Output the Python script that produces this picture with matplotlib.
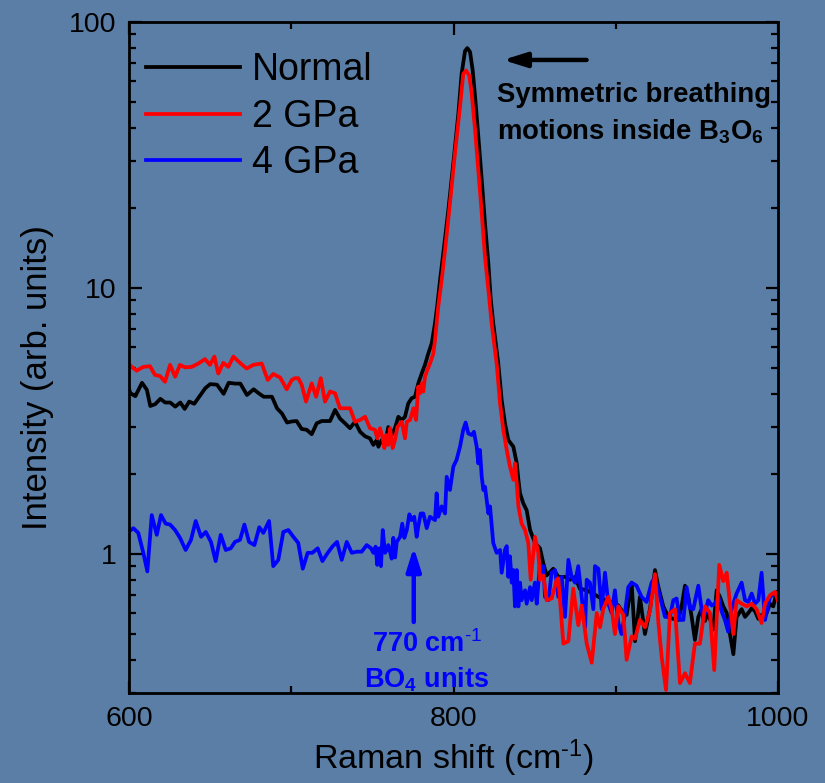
import numpy as np
import matplotlib
matplotlib.use('Agg')
from matplotlib import pyplot as plt
from matplotlib import ticker

plt.rcParams['font.family'] = ['Liberation Sans', 'DejaVu Sans']
plt.rcParams['mathtext.fontset'] = 'custom'
plt.rcParams['mathtext.rm'] = 'Liberation Sans'
plt.rcParams['mathtext.bf'] = 'Liberation Sans:bold'
plt.rcParams['mathtext.it'] = 'Liberation Sans:italic'
plt.rcParams['mathtext.default'] = 'regular'

# Normal
normal_x = [598.8, 600.8, 603.9, 608.0, 611.0, 613.1, 616.2, 619.3, 622.3, 625.4, 628.5, 631.6, 634.3, 637.1,
            640.2, 643.3, 647.0, 650.0, 654.2, 658.3, 661.4, 665.5, 668.6, 672.7, 676.8, 679.9, 683.0, 688.1,
            691.2, 694.3, 697.4, 700.5, 703.3, 706.4, 709.5, 712.6, 715.7, 718.8, 723.9, 727.0, 730.0, 733.1,
            736.2, 739.3, 742.4, 745.5, 748.5, 750.6, 752.7, 753.7, 755.7, 757.8, 759.8, 761.9, 763.9, 766.0,
            768.1, 770.1, 772.1, 774.2, 776.3, 778.3, 780.4, 782.4, 784.5, 786.6, 788.6, 790.0, 791.7, 793.7,
            796.8, 799.9, 803.0, 805.0, 807.1, 808.5, 810.2, 811.8, 813.3, 815.3, 817.4, 819.4, 821.5, 823.0,
            824.5, 827.6, 829.7, 831.7, 833.8, 836.9, 839.0, 840.0, 841.0, 843.0, 845.1, 847.2, 850.2, 853.3,
            855.4, 857.4, 861.5, 864.6, 868.7, 871.8, 874.9, 877.9, 882.1, 886.2, 889.3, 893.4, 897.5, 901.6,
            904.7, 906.7, 909.8, 911.9, 914.9, 918.0, 921.1, 924.2, 926.3, 929.3, 932.4, 935.5, 938.6, 940.6,
            942.7, 944.7, 946.8, 948.8, 950.9, 952.9, 955.0, 957.0, 960.1, 962.2, 964.2, 966.3, 968.4, 970.4,
            972.5, 974.5, 977.6, 979.7, 981.7, 983.8, 985.8, 987.9, 989.9, 993.0, 995.1, 997.1, 999.2, 1001.2,
            1003.3]
normal_y = [4.40, 4.02, 3.92, 4.40, 4.14, 3.60, 3.66, 3.83, 3.71, 3.71, 3.58, 3.71, 3.51, 3.74,
            3.67, 3.90, 4.20, 4.35, 4.33, 4.00, 4.40, 4.37, 4.37, 3.96, 4.16, 4.02, 3.90, 3.90,
            3.53, 3.37, 3.12, 3.15, 3.16, 2.95, 2.93, 2.82, 3.10, 3.16, 3.16, 3.48, 3.23, 3.10,
            2.97, 3.14, 2.88, 2.77, 2.72, 2.57, 2.68, 2.53, 2.68, 2.61, 3.00, 2.80, 2.97, 3.28,
            3.19, 3.28, 3.68, 3.85, 3.90, 4.38, 4.77, 5.14, 5.68, 6.20, 7.37, 8.6, 10.7, 13.5,
            19.6, 29.5, 45.3, 63.8, 77.8, 79.8, 77.2, 66.0, 52.4, 37.1, 25.5, 17.5, 12.3, 9.0,
            7.37, 5.2, 3.79, 3.10, 2.68, 2.53, 2.19, 1.90, 1.69, 1.55, 1.46, 1.23, 1.10, 1.05,
            0.92, 0.83, 0.88, 0.82, 0.82, 0.80, 0.82, 0.74, 0.73, 0.71, 0.69, 0.67, 0.66, 0.64,
            0.60, 0.59, 0.78, 0.47, 0.69, 0.50, 0.62, 0.87, 0.75, 0.635, 0.58, 0.57, 0.565, 0.635,
            0.76, 0.69, 0.58, 0.475, 0.58, 0.62, 0.56, 0.60, 0.52, 0.73, 0.69, 0.635, 0.60, 0.50,
            0.42, 0.58, 0.62, 0.58, 0.60, 0.625, 0.61, 0.57, 0.59, 0.60, 0.65, 0.635, 0.72, 0.69,
            0.67]

# 2 GPa
gpa2_x = [597.5, 599.6, 601.7, 604.7, 608.8, 612.9, 616.0, 619.1, 622.2, 625.3, 628.4, 631.4, 634.5, 638.6,
          642.7, 646.8, 649.9, 652.6, 655.0, 658.1, 661.2, 664.3, 668.4, 672.5, 676.6, 681.8, 685.5, 688.9,
          693.1, 697.2, 700.3, 702.3, 704.3, 706.4, 709.1, 712.6, 715.3, 718.2, 720.8, 723.9, 727.0, 730.0,
          733.1, 736.2, 739.3, 742.4, 745.5, 748.5, 751.6, 753.0, 754.7, 756.4, 757.4, 758.4, 759.8, 760.9,
          762.5, 763.9, 765.4, 768.1, 770.1, 771.2, 773.2, 775.3, 776.9, 778.3, 779.4, 780.4, 781.4, 782.4,
          783.9, 785.5, 787.6, 788.6, 790.6, 792.7, 794.8, 797.8, 800.9, 804.0, 806.0, 807.7, 809.7, 811.2,
          813.3, 815.3, 817.4, 819.4, 821.5, 823.5, 826.6, 828.7, 830.7, 832.8, 834.8, 836.9, 837.9, 839.0,
          840.0, 842.0, 844.1, 846.1, 847.6, 850.2, 852.3, 853.3, 855.4, 857.4, 860.5, 863.6, 864.6, 867.7,
          870.8, 873.8, 876.9, 879.0, 882.1, 885.2, 888.3, 890.3, 892.3, 895.4, 897.5, 899.5, 901.6, 904.7,
          906.7, 909.8, 911.9, 914.9, 918.0, 921.1, 924.2, 926.3, 928.3, 931.0, 933.4, 936.5, 939.6, 942.7,
          945.7, 948.8, 951.9, 955.0, 958.1, 960.7, 963.8, 966.3, 968.4, 970.4, 972.5, 974.5, 977.6, 980.7,
          983.8, 986.8, 989.9, 992.0, 995.1, 998.2, 1000.6, 1002.7]
gpa2_y = [5.28, 5.20, 5.05, 4.89, 5.05, 5.08, 4.71, 4.67, 4.44, 5.14, 4.64, 5.14, 5.03, 5.05,
          5.20, 5.40, 5.14, 5.52, 4.77, 5.23, 5.05, 5.52, 5.23, 4.98, 5.14, 5.20, 4.51, 4.75,
          4.61, 4.16, 4.51, 4.58, 4.58, 4.33, 3.74, 4.38, 3.90, 4.58, 3.74, 4.08, 4.02, 3.53,
          3.53, 3.53, 3.14, 3.19, 3.28, 2.97, 2.93, 2.72, 2.97, 2.72, 2.50, 2.80, 2.57, 2.97,
          2.50, 2.68, 3.00, 3.14, 2.72, 3.14, 3.19, 3.53, 3.19, 4.26, 4.02, 4.38, 4.08, 4.64,
          4.92, 5.20, 5.68, 6.37, 8.51, 10.7, 13.9, 20.8, 32.1, 48.0, 63.8, 65.7, 63.0, 53.9,
          39.3, 27.8, 19.1, 13.1, 9.84, 7.37, 5.2, 3.68, 2.93, 2.46, 2.13, 1.90, 2.19, 1.84,
          1.51, 1.30, 1.23, 1.10, 0.80, 1.16, 1.01, 0.80, 0.83, 0.67, 0.68, 0.80, 0.81, 0.46,
          0.47, 0.74, 0.54, 0.64, 0.46, 0.39, 0.60, 0.53, 0.62, 0.69, 0.62, 0.50, 0.635, 0.59,
          0.40, 0.49, 0.48, 0.565, 0.53, 0.61, 0.84, 0.55, 0.41, 0.308, 0.60, 0.62, 0.327, 0.356,
          0.327, 0.46, 0.46, 0.635, 0.60, 0.366, 0.91, 0.79, 0.85, 0.65, 0.50, 0.67, 0.65, 0.635,
          0.65, 0.62, 0.55, 0.65, 0.70, 0.72, 0.65, 0.50]

# 4 GPa
gpa4_x = [599.6, 602.7, 605.7, 608.8, 611.3, 614.0, 617.1, 619.7, 622.6, 625.3, 628.4, 631.4, 634.9, 638.2,
          641.1, 644.4, 647.3, 650.5, 653.4, 656.5, 659.6, 662.7, 665.3, 668.4, 671.1, 674.0, 677.3, 680.3,
          682.8, 686.3, 688.9, 692.0, 695.1, 698.2, 701.3, 704.3, 707.1, 710.1, 713.0, 716.3, 719.2, 722.5,
          725.3, 728.2, 731.1, 734.2, 737.3, 740.3, 743.4, 746.5, 749.2, 750.6, 752.0, 753.0, 754.3, 755.3,
          756.4, 757.8, 758.8, 759.8, 760.9, 761.9, 762.9, 764.0, 765.0, 767.1, 768.4, 769.7, 771.2, 772.8,
          774.2, 775.8, 777.3, 778.3, 779.8, 781.4, 783.5, 785.5, 788.6, 789.6, 790.6, 792.7, 794.8, 795.8,
          797.8, 799.9, 801.9, 804.0, 806.0, 807.5, 809.1, 811.2, 812.6, 814.3, 815.3, 816.3, 817.4, 818.4,
          819.4, 821.5, 822.5, 824.5, 826.6, 828.7, 829.7, 831.7, 832.8, 833.8, 834.8, 835.9, 836.9, 837.9,
          839.0, 840.0, 841.0, 842.0, 844.1, 845.1, 847.2, 848.2, 850.2, 851.3, 853.3, 854.3, 855.4, 856.4,
          858.5, 860.5, 862.6, 864.6, 866.7, 868.7, 870.8, 872.8, 874.9, 876.9, 879.0, 881.1, 882.1, 884.1,
          886.2, 887.2, 889.3, 891.3, 893.4, 895.4, 897.5, 899.5, 901.6, 903.6, 905.7, 907.7, 909.8, 912.8,
          915.9, 919.0, 922.1, 924.2, 927.3, 930.4, 933.4, 935.5, 937.5, 939.6, 941.7, 943.7, 945.7, 947.8,
          950.9, 953.9, 957.0, 959.1, 961.1, 963.2, 965.2, 967.3, 969.3, 971.4, 974.5, 977.6, 979.7, 981.7,
          983.8, 985.8, 987.9, 989.9, 992.0, 995.1, 998.2, 1000.6]
gpa4_y = [1.21, 1.25, 1.20, 1.01, 0.86, 1.40, 1.18, 1.40, 1.30, 1.29, 1.23, 1.15, 1.035, 1.13,
          1.33, 1.16, 1.21, 1.11, 0.94, 1.18, 1.035, 1.05, 1.11, 1.13, 1.29, 1.11, 1.08, 1.26,
          1.20, 1.33, 0.90, 0.95, 1.21, 1.23, 1.16, 1.10, 0.88, 1.01, 1.01, 1.05, 0.94, 1.01,
          1.065, 1.11, 0.95, 1.11, 1.01, 1.02, 1.02, 1.08, 1.05, 1.01, 1.065, 0.91, 1.05, 0.90,
          1.23, 1.01, 1.035, 1.08, 1.02, 0.96, 1.15, 0.97, 1.11, 1.16, 1.30, 1.15, 1.23, 1.41,
          1.34, 1.38, 1.16, 1.27, 1.42, 1.42, 1.25, 1.38, 1.34, 1.69, 1.38, 1.51, 1.42, 1.95,
          1.74, 2.13, 2.26, 2.53, 2.93, 3.12, 2.84, 2.80, 2.88, 2.53, 2.19, 2.46, 1.95, 1.74,
          1.79, 1.42, 1.51, 1.10, 1.01, 1.035, 0.85, 1.035, 1.07, 0.82, 0.98, 0.78, 0.87, 0.635,
          0.87, 0.635, 0.78, 0.67, 0.73, 0.65, 0.75, 0.67, 0.78, 0.65, 0.92, 0.85, 0.90, 0.69,
          0.67, 0.85, 0.87, 0.69, 0.82, 0.58, 0.95, 0.82, 0.78, 0.90, 0.69, 0.53, 0.80, 0.78,
          0.62, 0.90, 0.88, 0.62, 0.85, 0.65, 0.60, 0.73, 0.55, 0.50, 0.60, 0.75, 0.78, 0.76,
          0.69, 0.66, 0.78, 0.82, 0.69, 0.58, 0.58, 0.67, 0.68, 0.565, 0.565, 0.75, 0.625, 0.62,
          0.76, 0.565, 0.67, 0.64, 0.65, 0.69, 0.61, 0.565, 0.51, 0.62, 0.71, 0.78, 0.67, 0.66,
          0.71, 0.65, 0.67, 0.85, 0.565, 0.69, 0.71, 0.69]

arka = '#5a7ea6'

fig = plt.figure(figsize=(8.25, 7.83), dpi=100, facecolor=arka)
ax = fig.add_axes([0.1564, 0.1149, 0.7866, 0.857])
ax.set_facecolor(arka)

l1, = ax.plot(normal_x, normal_y, color='black', lw=2.7, label='Normal')
l3, = ax.plot(gpa4_x, gpa4_y, color='#0000ff', lw=2.7, label='4 GPa')
l2, = ax.plot(gpa2_x, gpa2_y, color='#ff0000', lw=2.7, label='2 GPa')

ax.set_yscale('log')
ax.set_xlim(600, 1000)
ax.set_ylim(0.3, 100)

ax.xaxis.set_major_locator(ticker.MultipleLocator(200))
ax.xaxis.set_minor_locator(ticker.MultipleLocator(100))
ax.yaxis.set_major_locator(ticker.LogLocator(base=10, numticks=10))
ax.yaxis.set_minor_locator(ticker.LogLocator(base=10, subs=np.arange(2, 10), numticks=20))
ax.yaxis.set_major_formatter(ticker.FuncFormatter(lambda v, p: '%g' % v))
ax.yaxis.set_minor_formatter(ticker.NullFormatter())

for s in ax.spines.values():
    s.set_linewidth(2.0)
ax.tick_params(which='both', direction='in', top=True, right=True, width=1.6, labelsize=20.5)
ax.tick_params(which='major', length=9)
ax.tick_params(which='minor', length=5)
ax.tick_params(axis='x', pad=9)
ax.tick_params(axis='y', pad=9)

ax.set_xlabel(r'Raman shift (cm$^{\text{-1}}$)', fontsize=24.5, labelpad=4)
ax.set_ylabel('Intensity (arb. units)', fontsize=25)
ax.yaxis.set_label_coords(-0.116, 0.47)

ax.legend(handles=[l1, l2, l3], loc='upper left', bbox_to_anchor=(0.026, 0.955), frameon=False,
          fontsize=27, handlelength=2.5, handletextpad=0.33, labelspacing=0.28,
          borderpad=0, borderaxespad=0)

# oklar
ax.annotate('', xy=(830.5, 72), xytext=(882, 72),
            arrowprops=dict(arrowstyle='-|>,head_length=0.7,head_width=0.22', lw=3.2, color='black',
                            mutation_scale=20, shrinkA=0, shrinkB=0))
ax.annotate('', xy=(775.5, 1.06), xytext=(775.5, 0.555),
            arrowprops=dict(arrowstyle='-|>,head_length=0.7,head_width=0.22', lw=3.2, color='#0000ff',
                            mutation_scale=20, shrinkA=0, shrinkB=0))

ax.text(0.567, 0.881, 'Symmetric breathing', transform=ax.transAxes, fontsize=19.8,
        fontweight='bold', ha='left', va='baseline')
ax.text(0.567, 0.825, r'motions inside B$_\mathbf{3}$O$_\mathbf{6}$', transform=ax.transAxes,
        fontsize=19.8, fontweight='bold', ha='left', va='baseline')
ax.text(0.459, 0.0611, r'770 cm$^\mathbf{\text{-1}}$', transform=ax.transAxes, fontsize=19.5,
        fontweight='bold', color='#0000ff', ha='center', va='baseline')
ax.text(0.458, 0.0089, r'BO$_\mathbf{4}$ units', transform=ax.transAxes, fontsize=19.5,
        fontweight='bold', color='#0000ff', ha='center', va='baseline')

fig.savefig('out.png', dpi=100, facecolor=arka)
